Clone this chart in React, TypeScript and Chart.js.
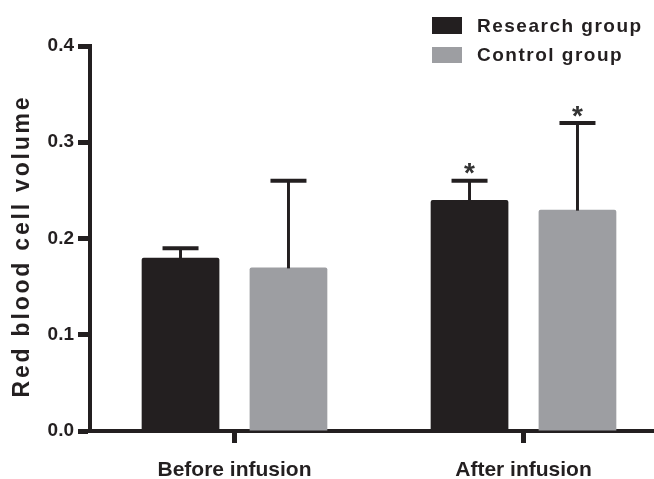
import React, { useEffect, useRef } from "react";
import { Chart, registerables } from "chart.js";

Chart.register(...registerables);

const categories = ["Before infusion", "After infusion"];
const seriesNames = ["Research group", "Control group"];
const researchValues = [0.18, 0.24];
const controlValues = [0.17, 0.23];
const researchSD = [0.01, 0.02];
const controlSD = [0.09, 0.09];
const researchMarks = ["", "*"];
const controlMarks = ["", "*"];
const yTicks = [0.0, 0.1, 0.2, 0.3, 0.4];
const yTitle = "Red blood cell volume";

const DARK = "#231f20";
const GRAY = "#9d9ea2";
const FONT = "'Liberation Sans', Arial, Helvetica, sans-serif";

const sds = [researchSD, controlSD];
const marks = [researchMarks, controlMarks];

const errorBarPlugin = {
  id: "errorBars",
  afterDatasetsDraw(chart: any) {
    const ctx = chart.ctx;
    const yScale = chart.scales.y;
    ctx.save();
    chart.data.datasets.forEach((ds: any, i: number) => {
      const meta = chart.getDatasetMeta(i);
      meta.data.forEach((el: any, j: number) => {
        const v = ds.data[j];
        const top = yScale.getPixelForValue(v + sds[i][j]);
        const x = el.x;
        ctx.strokeStyle = DARK;
        ctx.lineWidth = 3;
        ctx.lineCap = "butt";
        ctx.beginPath();
        ctx.moveTo(x, el.y + 1);
        ctx.lineTo(x, top);
        ctx.stroke();
        ctx.lineWidth = 4;
        ctx.beginPath();
        ctx.moveTo(x - 18, top);
        ctx.lineTo(x + 18, top);
        ctx.stroke();
        const m = marks[i][j];
        if (m) {
          ctx.font = `bold 28px ${FONT}`;
          ctx.fillStyle = "#333";
          ctx.textAlign = "center";
          ctx.textBaseline = "alphabetic";
          const mt = ctx.measureText(m);
          const asc = mt.actualBoundingBoxAscent;
          const desc = mt.actualBoundingBoxDescent;
          const target = top - 12;
          ctx.fillText(m, x, target + (asc - desc) / 2);
        }
      });
    });
    ctx.restore();
  },
};

const decorPlugin = {
  id: "decor",
  afterDraw(chart: any) {
    const ctx = chart.ctx;
    ctx.save();
    ctx.translate(23, 246);
    ctx.rotate(-Math.PI / 2);
    ctx.font = `bold 23px ${FONT}`;
    (ctx as any).letterSpacing = "2.8px";
    ctx.fillStyle = DARK;
    ctx.textAlign = "center";
    ctx.textBaseline = "middle";
    ctx.fillText(yTitle, 0, 0);
    ctx.restore();

    ctx.save();
    const rows = [
      { y: 17, h: 17 },
      { y: 47, h: 16 },
    ];
    chart.data.datasets.forEach((ds: any, i: number) => {
      const r = rows[i];
      ctx.fillStyle = ds.backgroundColor;
      ctx.fillRect(432, r.y, 30, r.h);
      ctx.font = `bold 19px ${FONT}`;
      (ctx as any).letterSpacing = "1.5px";
      ctx.fillStyle = DARK;
      ctx.textAlign = "left";
      ctx.textBaseline = "middle";
      ctx.fillText(ds.label, 477, r.y + r.h / 2 + 1);
    });
    ctx.restore();
  },
};

export default function App() {
  const ref = useRef<HTMLCanvasElement | null>(null);
  useEffect(() => {
    document.body.style.overflow = "hidden";
    if (!ref.current) return;
    const chart = new Chart(ref.current, {
      type: "bar",
      data: {
        labels: categories,
        datasets: [
          {
            label: seriesNames[0],
            data: researchValues,
            backgroundColor: DARK,
            borderRadius: 2,
            borderSkipped: "bottom",
          },
          {
            label: seriesNames[1],
            data: controlValues,
            backgroundColor: GRAY,
            borderRadius: 2,
            borderSkipped: "bottom",
          },
        ],
      },
      options: {
        responsive: false,
        animation: false,
        layout: { padding: { left: 0, top: 46, right: 12, bottom: 0 } },
        datasets: {
          bar: { categoryPercentage: 0.747, barPercentage: 0.72 },
        } as any,
        plugins: {
          legend: { display: false },
          tooltip: { enabled: false },
        },
        scales: {
          x: {
            type: "category",
            offset: true,
            grid: {
              offset: false,
              drawOnChartArea: false,
              drawTicks: true,
              tickLength: 12,
              tickWidth: 5,
              tickColor: DARK,
              color: DARK,
            },
            border: { display: true, width: 4, color: DARK },
            ticks: {
              color: DARK,
              font: { family: FONT, size: 21, weight: "bold" },
              padding: 15,
              maxRotation: 0,
            },
            afterFit(scale: any) {
              scale.height = 48;
            },
          },
          y: {
            type: "linear",
            min: yTicks[0],
            max: yTicks[yTicks.length - 1],
            afterBuildTicks(scale: any) {
              scale.ticks = yTicks.map((v) => ({ value: v }));
            },
            grid: {
              drawOnChartArea: false,
              drawTicks: true,
              tickLength: 12,
              tickWidth: 5,
              tickColor: DARK,
              color: DARK,
            },
            border: { display: true, width: 4, color: DARK },
            ticks: {
              color: DARK,
              font: { family: FONT, size: 19, weight: "bold" },
              padding: 4,
              callback: (v: any) => Number(v).toFixed(1),
            },
            afterFit(scale: any) {
              scale.width = 90;
            },
          },
        },
      },
      plugins: [errorBarPlugin, decorPlugin],
    });
    return () => chart.destroy();
  }, []);
  return (
    <div style={{ position: "absolute", left: 0, top: 0, width: 680, height: 479, background: "#fff" }}>
      <canvas ref={ref} width={680} height={479} style={{ width: 680, height: 479 }} />
    </div>
  );
}
